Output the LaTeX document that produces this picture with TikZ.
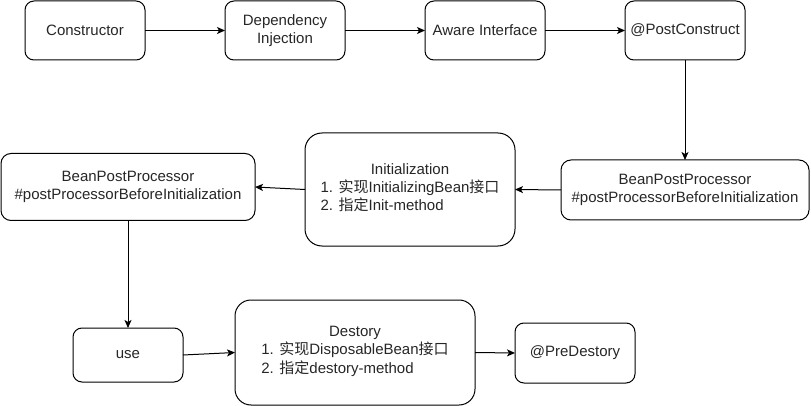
\documentclass[tikz,border=0pt]{standalone}
\usepackage{fontspec}
\setmainfont{Liberation Sans}
\newfontfamily\cjkfont{Noto Sans CJK SC}
\usetikzlibrary{arrows.meta}
\newcommand{\zh}[1]{{\cjkfont #1}}
\newcommand{\steplist}[2]{\begin{tabular}[t]{@{}l@{}}#1\\#2\end{tabular}}
\tikzset{
  stage/.style={draw, line width=1pt, rounded corners=9pt, inner sep=0pt, outer sep=0pt,
    align=center, font=\fontsize{15}{18}\selectfont, text=black!85,
    minimum width=#1},
  stage/.default=120pt,
  flow/.style={line width=1pt, -{Stealth[length=8pt,width=7pt,inset=2pt]}}
}

\begin{document}
\begin{tikzpicture}[x=1pt,y=-1pt]
  \useasboundingbox (0,0) rectangle (811,406);

  % first row
  \node[stage, minimum height=59pt] (con) at (85,30.5) {Constructor};
  \node[stage, minimum height=59pt] (dep) at (285,30.5) {Dependency\\Injection};
  \node[stage, minimum height=59pt] (awr) at (485,30.5) {Aware Interface};
  \node[stage, minimum height=59pt] (post) at (685,30.5) {@PostConstruct};

  % second row
  \node[stage=248pt, minimum height=60pt, rounded corners=10pt] (bppr) at (685,190)
    {BeanPostProcessor\\\#postProcessorBeforeInitialization};
  \node[stage=210pt, minimum height=113pt, rounded corners=17pt] (init) at (410,189.5)
    {Initialization\\\steplist{1. \zh{实现}InitializingBean\zh{接口}}{2. \zh{指定}Init-method}};
  \node[stage=254pt, minimum height=67pt, rounded corners=10pt] (bppl) at (128,187)
    {BeanPostProcessor\\\#postProcessorBeforeInitialization};

  % third row
  \node[stage=110pt, minimum height=54pt] (use) at (128,355) {use};
  \node[stage=240pt, minimum height=105pt, rounded corners=16pt] (des) at (355,352.5)
    {Destory\\\steplist{1. \zh{实现}DisposableBean\zh{接口}}{2. \zh{指定}destory-method}};
  \node[stage, minimum height=60pt] (pre) at (575,353) {@PreDestory};

  % connectors
  \draw[flow] (con) -- (dep);
  \draw[flow] (dep) -- (awr);
  \draw[flow] (awr) -- (post);
  \draw[flow] (post) -- (bppr);
  \draw[flow] (bppr.west) -- (init.east);
  \draw[flow] (init.west) -- (bppl.east);
  \draw[flow] (bppl) -- (use);
  \draw[flow] (use.east) -- (des.west);
  \draw[flow] (des.east) -- (pre.west);
\end{tikzpicture}
\end{document}
